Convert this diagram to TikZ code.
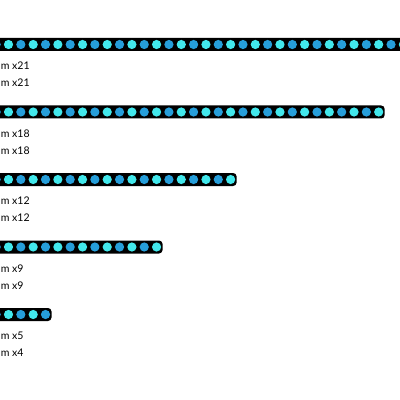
\documentclass[tikz,border=0pt]{standalone}
\usepackage{fontspec}
\setmainfont{Lato}
\definecolor{ledcyan}{RGB}{66,232,236}
\definecolor{ledblue}{RGB}{38,158,218}
\tikzset{
  strip/.style={fill=black, rounded corners=2.5pt},
  led/.style={circle, inner sep=0pt, minimum size=2.3mm},
  qty/.style={anchor=west, inner sep=0pt, font=\fontsize{7.5}{9}\selectfont}
}
\begin{document}
\begin{tikzpicture}[x=0.025cm, y=-0.025cm]
\useasboundingbox (0,0) rectangle (400,400);
\clip (0,0) rectangle (400,400);

% one strip per row: row / last led / two counts
\foreach \row/\last/\qa/\qb in {1/32/21/21, 2/30/18/18, 3/18/12/12, 4/12/9/9, 5/3/5/4} {
  \pgfmathsetmacro{\ymid}{44.5+67.5*(\row-1)}
  \pgfmathsetmacro{\xend}{8.5+12.34*\last+6}
  \fill[strip] (-20,\ymid-6.5) rectangle (\xend,\ymid+6.5);
  \foreach \k in {-1,...,\last} {
    \ifodd\k\relax \def\ledcol{ledblue}\else \def\ledcol{ledcyan}\fi
    \node[led, fill=\ledcol] (led-\row-\k) at (8.5+12.34*\k,\ymid) {};
  }
  \node[qty] (lbl-\row-a) at (0.5,\ymid+21.5) {m x\qa};
  \node[qty] (lbl-\row-b) at (0.5,\ymid+38.5) {m x\qb};
}
\end{tikzpicture}
\end{document}
